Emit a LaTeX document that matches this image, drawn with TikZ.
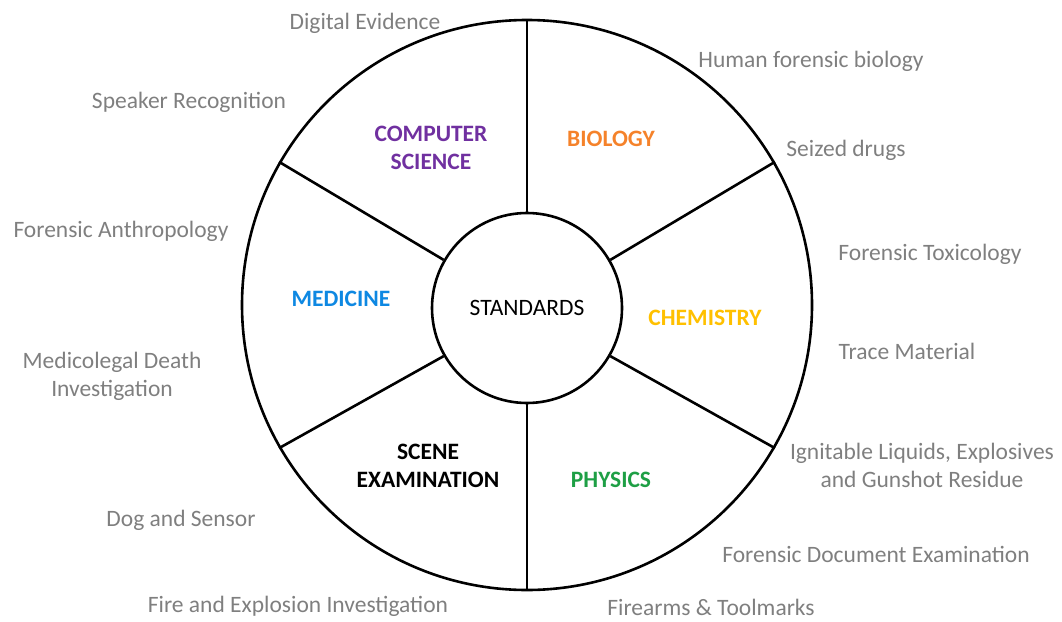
\documentclass[tikz,border=0pt]{standalone}
\usepackage{fontspec}
\setmainfont{Carlito}
\definecolor{lblgray}{HTML}{7F7F7F}
\definecolor{cspurple}{HTML}{7030A0}
\definecolor{bioorange}{HTML}{F5822A}
\definecolor{medblue}{HTML}{0E88E2}
\definecolor{chemgold}{HTML}{FFC000}
\definecolor{physgreen}{HTML}{1E9F45}
\begin{document}
\begin{tikzpicture}[x=1pt,y=-1pt,
  ring/.style={draw=black,line width=2.6pt,circle},
  spoke/.style={draw=black,line width=2.6pt},
  field/.style={font=\fontsize{23.5}{28}\selectfont,text=lblgray,align=center,inner sep=0pt},
  area/.style={font=\fontsize{23.5}{28}\selectfont\bfseries,align=center,inner sep=0pt}]
\useasboundingbox (0,0) rectangle (1062,621);
\coordinate (c) at (527,305);
\node[ring,minimum size=570pt,inner sep=0pt] (outer) at (c) {};
\node[ring,minimum size=190pt,inner sep=0pt,font=\fontsize{23.5}{28}\selectfont] (std) at (527,308) {STANDARDS};
\foreach \a in {30,90,150,210,270,330}{
  \draw[spoke] (std.\a) -- (outer.\a);
}
% sector labels
\node[area,text=cspurple] (cs) at (431,148) {COMPUTER\\SCIENCE};
\node[area,text=bioorange] (bio) at (611,139) {BIOLOGY};
\node[area,text=medblue] (med) at (341,299) {MEDICINE};
\node[area,text=chemgold] (chem) at (705,318) {CHEMISTRY};
\node[area,text=black] (scene) at (428,466) {SCENE\\EXAMINATION};
\node[area,text=physgreen] (phys) at (611,480) {PHYSICS};
% field labels
\node[field] (de) at (365,23) {Digital Evidence};
\node[field] (hfb) at (811,61) {Human forensic biology};
\node[field] (sr) at (189,102) {Speaker Recognition};
\node[field] (sd) at (846,150) {Seized drugs};
\node[field] (fa) at (121,231) {Forensic Anthropology};
\node[field] (ft) at (930,254) {Forensic Toxicology};
\node[field] (mdi) at (112,376) {Medicolegal Death\\Investigation};
\node[field] (tm) at (907,351) {Trace Material};
\node[field] (il) at (922,465) {Ignitable Liquids, Explosives\\and Gunshot Residue};
\node[field] (ds) at (181,520) {Dog and Sensor};
\node[field] (fde) at (876,554) {Forensic Document Examination};
\node[field] (fei) at (298,606) {Fire and Explosion Investigation};
\node[field] (ftm) at (711,607) {Firearms \& Toolmarks};
\end{tikzpicture}
\end{document}
